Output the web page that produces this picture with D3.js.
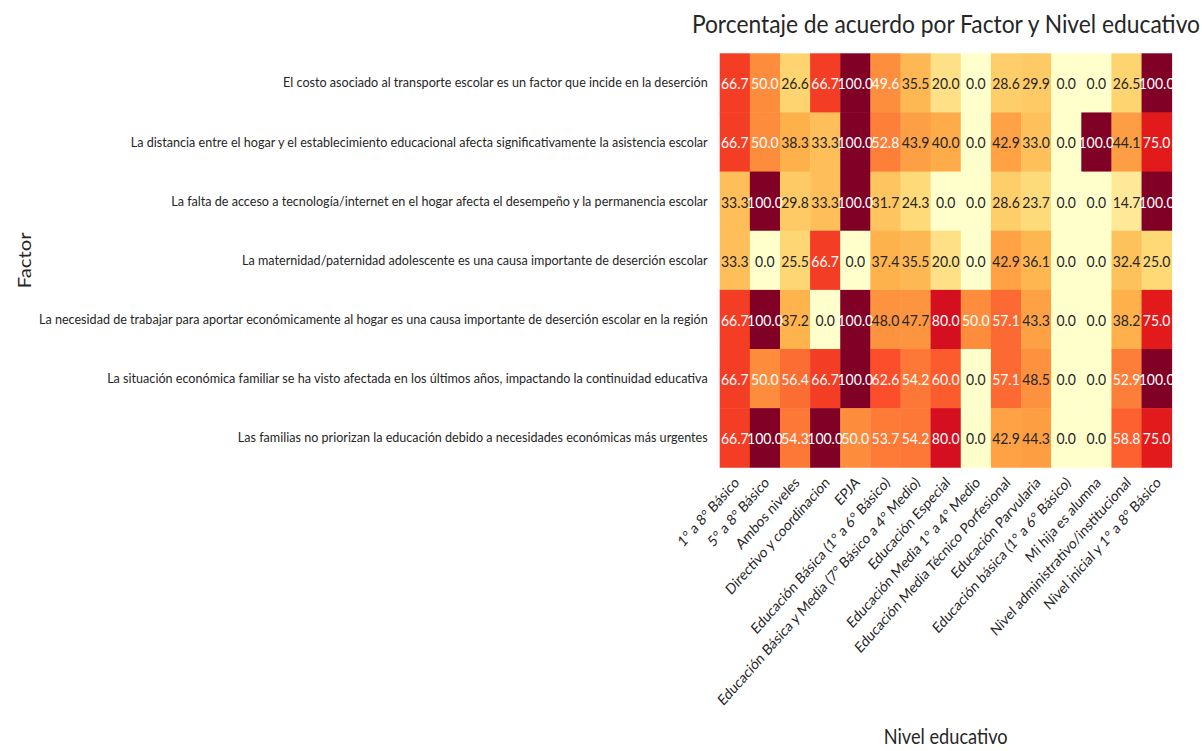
<!DOCTYPE html>
<html>
<head>
<meta charset="utf-8">
<script src="https://cdn.jsdelivr.net/npm/d3@7"></script>
<style>
  html, body { margin: 0; padding: 0; background: #fff; }
  svg { display: block; font-family: Lato, "Noto Sans", sans-serif; }
</style>
</head>
<body>
<svg id="chart" width="1202" height="751"></svg>
<script>
const title = "Porcentaje de acuerdo por Factor y Nivel educativo";
const xLabel = "Nivel educativo";
const yLabel = "Factor";

const niveles = [
  "1° a 8° Básico",
  "5° a 8° Básico",
  "Ambos niveles",
  "Directivo y coordinacion",
  "EPJA",
  "Educación Básica (1° a 6° Básico)",
  "Educación Básica y Media (7° Básico a 4° Medio)",
  "Educación Especial",
  "Educación Media 1° a 4° Medio",
  "Educación Media Técnico Porfesional",
  "Educación Parvularia",
  "Educación básica (1° a 6° Básico)",
  "Mi hija es alumna",
  "Nivel administrativo/institucional",
  "Nivel inicial y 1° a 8° Básico"
];

const factores = [
  "El costo asociado al transporte escolar es un factor que incide en la deserción",
  "La distancia entre el hogar y el establecimiento educacional afecta significativamente la asistencia escolar",
  "La falta de acceso a tecnología/internet en el hogar afecta el desempeño y la permanencia escolar",
  "La maternidad/paternidad adolescente es una causa importante de deserción escolar",
  "La necesidad de trabajar para aportar económicamente al hogar es una causa importante de deserción escolar en la región",
  "La situación económica familiar se ha visto afectada en los últimos años, impactando la continuidad educativa",
  "Las familias no priorizan la educación debido a necesidades económicas más urgentes"
];

const costoTransporte   = [66.7, 50.0, 26.6, 66.7, 100.0, 49.6, 35.5, 20.0, 0.0, 28.6, 29.9, 0.0, 0.0, 26.5, 100.0];
const distanciaHogar    = [66.7, 50.0, 38.3, 33.3, 100.0, 52.8, 43.9, 40.0, 0.0, 42.9, 33.0, 0.0, 100.0, 44.1, 75.0];
const accesoTecnologia  = [33.3, 100.0, 29.8, 33.3, 100.0, 31.7, 24.3, 0.0, 0.0, 28.6, 23.7, 0.0, 0.0, 14.7, 100.0];
const maternidad        = [33.3, 0.0, 25.5, 66.7, 0.0, 37.4, 35.5, 20.0, 0.0, 42.9, 36.1, 0.0, 0.0, 32.4, 25.0];
const necesidadTrabajar = [66.7, 100.0, 37.2, 0.0, 100.0, 48.0, 47.7, 80.0, 50.0, 57.1, 43.3, 0.0, 0.0, 38.2, 75.0];
const situacionEconom   = [66.7, 50.0, 56.4, 66.7, 100.0, 62.6, 54.2, 60.0, 0.0, 57.1, 48.5, 0.0, 0.0, 52.9, 100.0];
const noPriorizan       = [66.7, 100.0, 54.3, 100.0, 50.0, 53.7, 54.2, 80.0, 0.0, 42.9, 44.3, 0.0, 0.0, 58.8, 75.0];

const seriesValues = [costoTransporte, distanciaHogar, accesoTecnologia, maternidad, necesidadTrabajar, situacionEconom, noPriorizan];

const cells = [];
factores.forEach((f, i) => {
  niveles.forEach((n, j) => {
    cells.push({ factor: f, nivel: n, value: seriesValues[i][j] });
  });
});

// The reference figure is stretched vertically relative to horizontally
const K = 1.13;
const svg = d3.select("#chart");
const root = svg.append("g").attr("transform", `scale(1,${K})`);
const grid = { left: 719.7, top: 53.3 / K, right: 1171.7, bottom: 467.3 / K };

const x = d3.scaleBand().domain(niveles).range([grid.left, grid.right]).padding(0);
const y = d3.scaleBand().domain(factores).range([grid.top, grid.bottom]).padding(0);

const ylorrd = ["#ffffcc","#ffeda0","#fed976","#feb24c","#fd8d3c","#fc4e2a","#e31a1c","#bd0026","#800026"];
const color = d3.scaleLinear()
  .domain(d3.range(ylorrd.length).map(k => k * 100 / (ylorrd.length - 1)))
  .range(ylorrd)
  .interpolate(d3.interpolateRgb);

function lum(c) {
  const rgb = d3.rgb(c);
  const f = v => { v /= 255; return v <= 0.03928 ? v / 12.92 : Math.pow((v + 0.055) / 1.055, 2.4); };
  return 0.2126 * f(rgb.r) + 0.7152 * f(rgb.g) + 0.0722 * f(rgb.b);
}

root.append("g").selectAll("rect").data(cells).join("rect")
  .attr("x", d => x(d.nivel))
  .attr("y", d => y(d.factor))
  .attr("width", x.bandwidth() + 0.4)
  .attr("height", y.bandwidth() + 0.4)
  .attr("fill", d => color(d.value));

root.append("g").selectAll("text").data(cells).join("text")
  .attr("x", d => x(d.nivel) + x.bandwidth() / 2)
  .attr("y", d => y(d.factor) + y.bandwidth() / 2)
  .attr("text-anchor", "middle")
  .attr("dominant-baseline", "central")
  .attr("font-size", 14)
  .attr("fill", d => lum(color(d.value)) > 0.408 ? "#262626" : "#ffffff")
  .text(d => d.value.toFixed(1));

// Y axis (labels only)
const yAxis = d3.axisLeft(y).tickSize(0).tickPadding(12);
const gy = root.append("g").attr("transform", `translate(${grid.left},0)`).call(yAxis);
gy.select(".domain").remove();
gy.selectAll("text").attr("font-size", 12.6).attr("fill", "#262626").attr("font-family", "Lato, sans-serif");

// X axis (rotated labels)
const xAxis = d3.axisBottom(x).tickSize(0).tickPadding(0);
const gx = root.append("g").attr("transform", `translate(0,${grid.bottom})`).call(xAxis);
gx.select(".domain").remove();
gx.selectAll("text")
  .attr("font-size", 13.2)
  .attr("fill", "#262626")
  .attr("font-family", "Lato, sans-serif")
  .attr("text-anchor", "end")
  .attr("dy", "0.35em")
  .attr("y", 0)
  .attr("transform", "translate(2,11) rotate(-45)");

// Axis titles
root.append("text")
  .attr("x", (grid.left + grid.right) / 2)
  .attr("y", 744 / K)
  .attr("text-anchor", "middle")
  .attr("font-size", 18.2)
  .attr("fill", "#262626")
  .text(xLabel);

root.append("text")
  .attr("transform", `translate(31,${(grid.top + grid.bottom) / 2}) rotate(-90)`)
  .attr("text-anchor", "middle")
  .attr("font-size", 18)
  .attr("fill", "#262626")
  .text(yLabel);

root.append("text")
  .attr("x", 1200)
  .attr("y", 33 / K)
  .attr("text-anchor", "end")
  .attr("font-size", 22.8)
  .attr("fill", "#262626")
  .text(title);
</script>
</body>
</html>
